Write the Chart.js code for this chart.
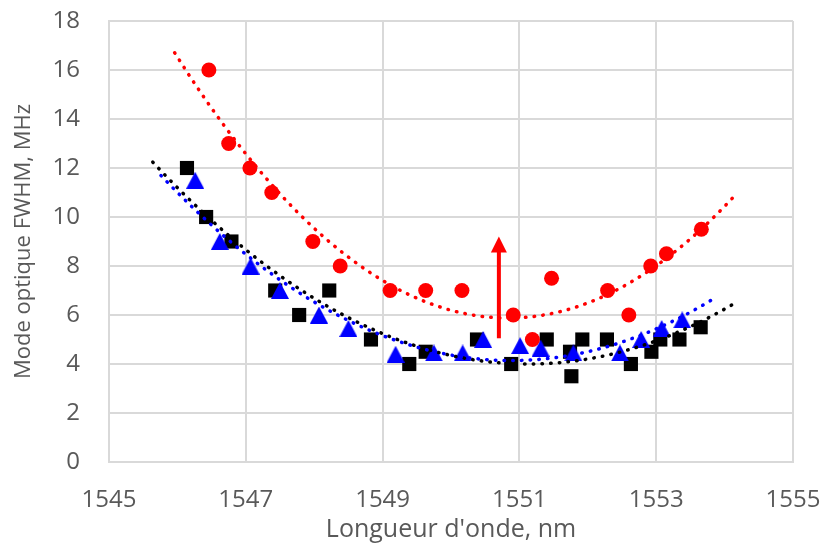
<!DOCTYPE html>
<html>
<head>
<meta charset="utf-8">
<script src="https://cdn.jsdelivr.net/npm/chart.js@4/dist/chart.umd.min.js"></script>
<style>
  html, body { margin: 0; padding: 0; background: #ffffff; }
  #wrap { width: 826px; height: 547px; }
</style>
</head>
<body>
<div id="wrap"><canvas id="chart" width="826" height="547"></canvas></div>
<script>
// values
var redX = [1546.46, 1546.75, 1547.06, 1547.38, 1547.98, 1548.38, 1549.11, 1549.63, 1550.16,
            1550.91, 1551.19, 1551.47, 1552.29, 1552.60, 1552.92, 1553.15, 1553.66];
var redY = [16, 13, 12, 11, 9, 8, 7, 7, 7, 6, 5, 7.5, 7, 6, 8, 8.5, 9.5];

var blackX = [1546.14, 1546.42, 1546.79, 1547.43, 1547.78, 1548.22, 1548.83, 1549.39, 1549.63,
              1550.38, 1550.88, 1551.40, 1551.74, 1551.76, 1551.92, 1552.28, 1552.63, 1552.93,
              1553.06, 1553.34, 1553.65];
var blackY = [12, 10, 9, 7, 6, 7, 5, 4, 4.5, 5, 4, 5, 4.5, 3.5, 5, 5, 4, 4.5, 5, 5, 5.5];

var blueX = [1546.26, 1546.62, 1547.07, 1547.50, 1548.07, 1548.50, 1549.19, 1549.75, 1550.17,
             1550.47, 1551.01, 1551.31, 1551.79, 1552.47, 1552.78, 1553.08, 1553.38];
var blueY = [11.5, 9, 8, 7, 6, 5.45, 4.4, 4.45, 4.45, 5, 4.75, 4.65, 4.45, 4.45, 5, 5.45, 5.8];

var xTicks = [1545, 1547, 1549, 1551, 1553, 1555];
var yTicks = [0, 2, 4, 6, 8, 10, 12, 14, 16, 18];

// red arrow (x, then y from/to)
var arrowX = 1550.7;
var arrowY = [5.05, 9.2];

var forecast = 0.5;

function pts(xs, ys) {
  return xs.map(function (x, i) { return { x: x, y: ys[i] }; });
}

// 2nd order least squares trendline, like the spreadsheet one
function trend(xs, ys) {
  var s = [0, 0, 0, 0, 0], t = [0, 0, 0];
  for (var i = 0; i < xs.length; i++) {
    var u = xs[i] - 1550;
    for (var k = 0; k < 5; k++) s[k] += Math.pow(u, k);
    for (var k2 = 0; k2 < 3; k2++) t[k2] += ys[i] * Math.pow(u, k2);
  }
  var m = [[s[0], s[1], s[2], t[0]], [s[1], s[2], s[3], t[1]], [s[2], s[3], s[4], t[2]]];
  for (var c = 0; c < 3; c++) {
    for (var r = c + 1; r < 3; r++) {
      var f = m[r][c] / m[c][c];
      for (var j = c; j < 4; j++) m[r][j] -= f * m[c][j];
    }
  }
  var a = [0, 0, 0];
  for (var r2 = 2; r2 >= 0; r2--) {
    var v = m[r2][3];
    for (var j2 = r2 + 1; j2 < 3; j2++) v -= m[r2][j2] * a[j2];
    a[r2] = v / m[r2][r2];
  }
  var lo = Math.min.apply(null, xs) - forecast, hi = Math.max.apply(null, xs) + forecast;
  var out = [];
  for (var n = 0; n <= 80; n++) {
    var x = lo + (hi - lo) * n / 80, w = x - 1550;
    out.push({ x: x, y: a[0] + a[1] * w + a[2] * w * w });
  }
  return out;
}

function triangleImg(color) {
  var c = document.createElement('canvas');
  c.width = 18; c.height = 17;
  var g = c.getContext('2d');
  g.fillStyle = color;
  g.beginPath();
  g.moveTo(9, 0); g.lineTo(18, 17); g.lineTo(0, 17);
  g.closePath(); g.fill();
  return c;
}

function trendSet(data, color) {
  return {
    data: data, showLine: true, pointRadius: 0, pointHoverRadius: 0,
    borderColor: color, borderWidth: 3.5, borderDash: [0.5, 8.2], borderCapStyle: 'round',
    fill: false
  };
}

var arrowPlugin = {
  id: 'arrow',
  afterDatasetsDraw: function (chart) {
    var ctx = chart.ctx, sx = chart.scales.x, sy = chart.scales.y;
    var x = sx.getPixelForValue(arrowX);
    var y0 = sy.getPixelForValue(arrowY[0]), y1 = sy.getPixelForValue(arrowY[1]);
    ctx.save();
    ctx.strokeStyle = '#ff0000';
    ctx.fillStyle = '#ff0000';
    ctx.lineWidth = 4;
    ctx.beginPath();
    ctx.moveTo(x, y0); ctx.lineTo(x, y1 + 14);
    ctx.stroke();
    ctx.beginPath();
    ctx.moveTo(x, y1); ctx.lineTo(x + 8, y1 + 16); ctx.lineTo(x - 8, y1 + 16);
    ctx.closePath(); ctx.fill();
    ctx.restore();
  }
};

var gridColor = '#d9d9d9';
var textColor = '#595959';
var fontFamily = "'Open Sans', sans-serif";

new Chart(document.getElementById('chart'), {
  type: 'scatter',
  data: {
    datasets: [
      trendSet(trend(redX, redY), '#ff0000'),
      trendSet(trend(blueX, blueY), '#0000ff'),
      trendSet(trend(blackX, blackY), '#000000'),
      { data: pts(redX, redY), pointStyle: 'circle', pointRadius: 7.5, pointHoverRadius: 7.5,
        backgroundColor: '#ff0000', borderWidth: 0 },
      { data: pts(blueX, blueY), pointStyle: triangleImg('#0000ff'), pointRadius: 9,
        backgroundColor: '#0000ff', borderWidth: 0 },
      { data: pts(blackX, blackY), pointStyle: 'rect', pointRadius: 10, pointHoverRadius: 10,
        backgroundColor: '#000000', borderWidth: 0 }
    ]
  },
  options: {
    responsive: false,
    animation: false,
    devicePixelRatio: 1,
    layout: { padding: { left: 0, right: 33, top: 21, bottom: 0 } },
    plugins: { legend: { display: false }, tooltip: { enabled: false } },
    scales: {
      x: {
        type: 'linear', min: 1545, max: 1555,
        afterBuildTicks: function (s) { s.ticks = xTicks.map(function (v) { return { value: v }; }); },
        afterFit: function (s) { s.height = 85; s.paddingLeft = 0; s.paddingRight = 0; },
        grid: { color: gridColor, lineWidth: 2, drawTicks: false },
        border: { color: gridColor, width: 2 },
        ticks: { color: textColor, font: { family: fontFamily, size: 24 }, padding: 24, maxRotation: 0,
                 callback: function (v) { return String(v); } },
        title: { display: true, text: "Longueur d'onde, nm", color: textColor,
                 font: { family: fontFamily, size: 25 }, padding: { top: 0, bottom: 2 } }
      },
      y: {
        min: 0, max: 18,
        afterBuildTicks: function (s) { s.ticks = yTicks.map(function (v) { return { value: v }; }); },
        afterFit: function (s) { s.width = 109; s.paddingTop = 0; s.paddingBottom = 0; },
        grid: { color: gridColor, lineWidth: 2, drawTicks: false },
        border: { color: gridColor, width: 2 },
        ticks: { color: textColor, font: { family: fontFamily, size: 24 }, padding: 29,
                 callback: function (v) { return String(v); } },
        title: { display: true, text: 'Mode optique FWHM, MHz', color: textColor,
                 font: { family: fontFamily, size: 22 }, padding: { top: 11, bottom: 0 } }
      }
    }
  },
  plugins: [arrowPlugin]
});
</script>
</body>
</html>
